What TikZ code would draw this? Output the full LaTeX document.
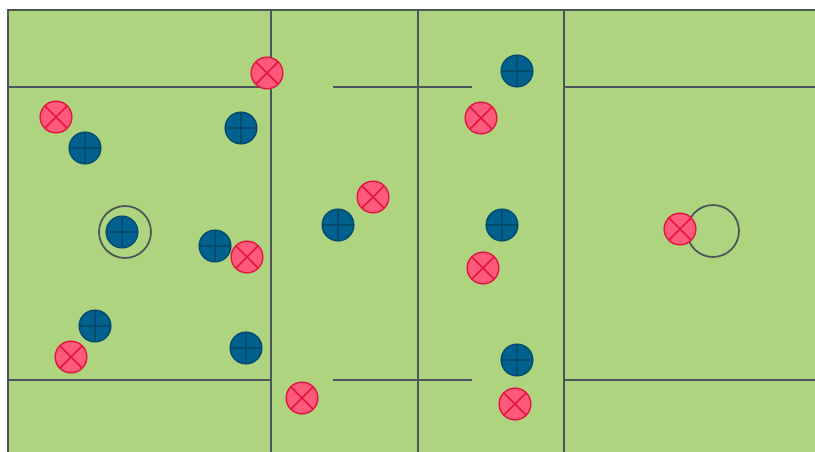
\documentclass[tikz,border=0pt]{standalone}
\definecolor{turf}{HTML}{AFD47F}
\definecolor{chalk}{HTML}{4B555A}
\definecolor{rosefill}{HTML}{FF5A7B}
\definecolor{roseline}{HTML}{E3163F}
\definecolor{navyfill}{HTML}{00608E}
\definecolor{navyline}{HTML}{034C70}

\tikzset{
  mark line/.style={chalk,line width=1.3pt},
  attacker/.style={circle,inner sep=0pt,minimum size=0.95cm,
    draw=roseline,fill=rosefill,line width=1.2pt,
    path picture={\draw[roseline,line width=1.4pt]
      (path picture bounding box.north west) -- (path picture bounding box.south east)
      (path picture bounding box.north east) -- (path picture bounding box.south west);}},
  defender/.style={circle,inner sep=0pt,minimum size=0.95cm,
    draw=navyline,fill=navyfill,line width=1.2pt,
    path picture={\draw[navyline,line width=1.4pt]
      (path picture bounding box.north) -- (path picture bounding box.south)
      (path picture bounding box.west) -- (path picture bounding box.east);}}
}

\begin{document}
\begin{tikzpicture}[x=0.03cm,y=-0.03cm]
  \useasboundingbox (0,0) rectangle (815,452);

  % Pitch, with only the top and left edges on the page.
  \fill[turf] (8,10) rectangle (815,452);
  \draw[mark line] (815,10) -- (8,10) -- (8,452);

  % Field markings.
  \draw[mark line] (271,10) -- (271,452);
  \draw[mark line] (418,10) -- (418,452);
  \draw[mark line] (564,10) -- (564,452);
  \draw[mark line] (8,87) -- (271,87);
  \draw[mark line] (8,380) -- (271,380);
  \draw[mark line] (564,87) -- (815,87);
  \draw[mark line] (564,380) -- (815,380);
  \draw[mark line] (333,87) -- (472,87);
  \draw[mark line] (333,380) -- (472,380);

  % Goal creases.
  \draw[mark line,line width=1.5pt] (125,232) circle (26);
  \draw[mark line,line width=1.5pt] (713,231) circle (26);

  % Defenders.
  \node[defender] (d1) at (85,148) {};
  \node[defender] (d2) at (241,128) {};
  \node[defender] (d3) at (122,232) {};
  \node[defender] (d4) at (215,246) {};
  \node[defender] (d5) at (95,326) {};
  \node[defender] (d6) at (246,348) {};
  \node[defender] (d7) at (338,225) {};
  \node[defender] (d8) at (517,71) {};
  \node[defender] (d9) at (502,225) {};
  \node[defender] (d10) at (517,360) {};

  % Attackers.
  \node[attacker] (a1) at (267,73) {};
  \node[attacker] (a2) at (56,117) {};
  \node[attacker] (a3) at (373,197) {};
  \node[attacker] (a4) at (247,257) {};
  \node[attacker] (a5) at (71,357) {};
  \node[attacker] (a6) at (302,398) {};
  \node[attacker] (a7) at (481,118) {};
  \node[attacker] (a8) at (483,268) {};
  \node[attacker] (a9) at (515,404) {};
  \node[attacker] (a10) at (680,229) {};
\end{tikzpicture}
\end{document}
